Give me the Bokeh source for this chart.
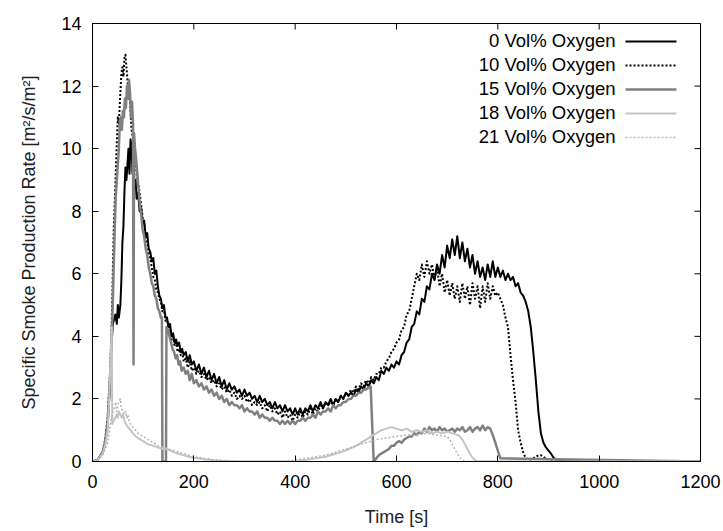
import math
from bokeh.plotting import figure
from bokeh.models import Range1d, FixedTicker, Label, Arrow
from bokeh.embed import file_html
from bokeh.resources import INLINE

# ---------------- data ----------------
x_ticks = [0, 200, 400, 600, 800, 1000, 1200]
y_ticks = [0, 2, 4, 6, 8, 10, 12, 14]
series_names = ["0 Vol% Oxygen", "10 Vol% Oxygen", "15 Vol% Oxygen",
                "18 Vol% Oxygen", "21 Vol% Oxygen"]

t_early = [0, 10, 20, 25, 30, 35, 38, 40, 42, 45, 48, 50, 52, 55, 57, 59, 61, 63, 65, 67,
           69, 71, 73, 75, 77, 79, 81, 83, 85, 87, 90, 93, 96, 99, 102, 105, 108, 111, 114, 117,
           120, 123, 126, 129, 132, 135, 138, 141, 144, 147, 150, 153, 156, 159, 162, 165, 168, 171, 174, 177,
           180, 184, 188, 192, 196, 200]
t_mid = [205, 210, 215, 220, 225, 230, 235, 240, 245, 250, 255, 260, 265, 270, 275, 280, 285, 290, 295, 300,
         305, 310, 315, 320, 325, 330, 335, 340, 345, 350, 355, 360, 365, 370, 375, 380, 385, 390, 395, 400,
         405, 410, 415, 420, 425, 430, 435, 440, 445, 450, 455, 460, 465, 470, 475, 480, 485, 490, 495, 500,
         505, 510, 515, 520, 525, 530, 535, 540, 545, 550, 555, 560, 565, 570, 575, 580, 585, 590, 595, 600,
         605, 610, 615, 620, 625, 630, 635, 640, 645, 650, 655, 660, 665, 670, 675, 680, 685, 690, 695, 700,
         705, 710, 715, 720, 725, 730, 735, 740, 745, 750, 755, 760, 765, 770, 775, 780, 785, 790, 795, 800]

# 0 Vol% Oxygen
t_o0 = t_early + t_mid + [805, 810, 815, 820, 825, 830, 835, 840, 845, 850, 855, 860, 865, 870, 875,
                          880, 885, 890, 895, 900, 905, 910, 917, 1200]
v_o0 = [0, 0.05, 0.3, 0.6, 1.2, 2.5, 3.8, 4.4, 4.5, 4.7, 4.4, 5.0, 4.6, 5.0, 5.8, 7.0, 7.5, 8.6, 9.4, 9.0,
        9.5, 10.0, 9.2, 10.3, 10.1, 9.2, 9.6, 8.8, 9.0, 8.4, 8.6, 8.0, 8.1, 7.6, 7.7, 7.2, 7.3, 6.8, 6.7, 6.4,
        6.5, 6.0, 6.1, 5.6, 5.3, 5.2, 4.9, 5.0, 4.6, 4.6, 4.3, 4.4, 4.0, 4.1, 3.8, 3.9, 3.7, 3.8, 3.5, 3.6,
        3.4, 3.5, 3.2, 3.4, 3.1, 3.2,
        2.9, 3.1, 2.8, 3.0, 2.7, 2.9, 2.6, 2.8, 2.5, 2.7, 2.4, 2.6, 2.3, 2.5, 2.3, 2.4, 2.2, 2.3, 2.1, 2.3,
        2.1, 2.2, 2.0, 2.1, 1.9, 2.1, 1.9, 2.0, 1.8, 1.9, 1.7, 1.9, 1.7, 1.8, 1.6, 1.8, 1.6, 1.7, 1.5, 1.7,
        1.5, 1.7, 1.5, 1.7, 1.6, 1.8, 1.6, 1.8, 1.7, 1.9, 1.7, 1.9, 1.8, 2.0, 1.8, 2.0, 1.9, 2.1, 2.0, 2.2,
        2.1, 2.2, 2.1, 2.3, 2.2, 2.4, 2.3, 2.5, 2.4, 2.6, 2.5, 2.7, 2.6, 2.9, 2.8, 3.0, 2.9, 3.1, 3.0, 3.2,
        3.1, 3.4, 3.5, 3.8, 3.9, 4.3, 4.4, 4.8, 4.7, 5.2, 5.1, 5.6, 5.5, 6.0, 5.8, 6.3, 6.0, 6.6, 6.2, 6.9,
        6.5, 7.1, 6.6, 7.2, 6.5, 7.0, 6.4, 6.8, 6.2, 6.6, 6.0, 6.4, 5.9, 6.2, 5.8, 6.3, 5.9, 6.4, 5.9, 6.2,
        5.9, 6.1, 5.8, 6.0, 5.8, 5.9, 5.6, 5.7, 5.4, 5.3, 5.1, 4.8, 4.3, 3.5, 2.6,
        1.6, 0.9, 0.6, 0.45, 0.35, 0.25, 0.12, 0.03, 0]

# 10 Vol% Oxygen
t_o10 = t_early + t_mid + [805, 810, 815, 820, 825, 830, 835, 840, 845, 850, 855, 860, 865, 870, 875,
                           880, 885, 890, 895, 905, 920, 1200]
v_o10 = [0, 0.05, 0.3, 0.7, 1.4, 3.0, 4.5, 6.0, 7.5, 8.8, 10.2, 11.0, 10.8, 11.8, 12.4, 12.6, 12.3, 12.9, 13.0, 12.6,
         12.2, 11.6, 11.8, 11.2, 10.6, 10.4, 10.3, 10.0, 9.6, 9.2, 8.9, 8.6, 8.2, 7.8, 7.6, 7.2, 7.0, 6.7, 6.5, 6.2,
         5.9, 5.8, 5.5, 5.4, 5.2, 5.1, 4.8, 4.9, 4.5, 4.6, 4.2, 4.3, 3.9, 4.0, 3.7, 3.8, 3.5, 3.6, 3.4, 3.5,
         3.2, 3.3, 3.0, 3.2, 2.9, 3.0,
         2.8, 2.9, 2.7, 2.8, 2.6, 2.7, 2.5, 2.6, 2.4, 2.5, 2.3, 2.4, 2.2, 2.3, 2.1, 2.2, 2.0, 2.1, 2.0, 2.1,
         1.9, 2.0, 1.8, 1.9, 1.8, 1.9, 1.7, 1.8, 1.6, 1.8, 1.6, 1.7, 1.5, 1.6, 1.4, 1.6, 1.4, 1.5, 1.3, 1.5,
         1.4, 1.6, 1.4, 1.6, 1.5, 1.7, 1.5, 1.7, 1.6, 1.8, 1.7, 1.9, 1.8, 1.9, 1.8, 2.0, 1.9, 2.1, 2.0, 2.2,
         2.1, 2.3, 2.2, 2.4, 2.3, 2.5, 2.4, 2.6, 2.5, 2.7, 2.6, 2.8, 2.8, 3.0, 3.0, 3.2, 3.3, 3.5, 3.6, 3.8,
         3.9, 4.2, 4.3, 4.7, 4.8, 5.2, 5.6, 6.0, 5.8, 6.3, 5.9, 6.4, 6.0, 6.3, 5.8, 6.2, 5.6, 6.0, 5.4, 5.8,
         5.3, 5.7, 5.2, 5.6, 5.1, 5.7, 5.2, 5.6, 5.0, 5.7, 5.2, 5.6, 4.9, 5.6, 5.1, 5.7, 5.2, 5.6, 5.3, 5.4,
         5.2, 5.0, 4.6, 4.3, 3.4, 2.6, 1.9, 1.0, 0.6, 0.3, 0.1, 0.05, 0.06, 0.1, 0.15,
         0.2, 0.2, 0.15, 0.08, 0.03, 0, 0]

# 15 Vol% Oxygen
t_o15 = [0, 10, 20, 25, 30, 35, 38, 40, 42, 44, 46, 48, 50, 52, 54, 56, 58, 60, 62, 64,
         66, 68, 70, 72, 74, 76, 78, 80, 81, 82, 84, 86, 88, 90, 93, 96, 99, 102, 105, 108,
         111, 114, 117, 120, 123, 126, 129, 132, 135, 137, 138, 145, 146, 149, 152, 155, 158, 161, 164, 167,
         170, 173, 176, 180, 184, 188, 192, 196, 200] + t_mid[:68] + [548, 549] + t_mid[70:] + [805, 1200]
v_o15 = [0, 0.05, 0.3, 0.6, 1.3, 2.8, 4.0, 5.0, 6.3, 7.5, 8.5, 9.0, 9.5, 10.0, 10.9, 11.0, 10.6, 11.2, 11.0, 11.6,
         11.3, 12.0, 11.6, 12.2, 11.8, 11.0, 11.5, 10.8, 3.1, 10.5, 10.0, 9.7, 9.3, 8.9, 8.3, 7.9, 7.4, 7.2, 6.8, 6.6,
         6.2, 6.0, 5.7, 5.6, 5.3, 5.2, 4.9, 4.8, 4.6, 4.6, 0, 0, 4.3, 4.2, 4.0, 3.8, 3.6, 3.5, 3.3, 3.4,
         3.1, 3.2, 2.9, 3.0, 2.8, 2.9, 2.6, 2.8, 2.5,
         2.6, 2.4, 2.5, 2.3, 2.4, 2.2, 2.3, 2.1, 2.2, 2.0, 2.1, 1.9, 2.0, 1.8, 1.9, 1.8, 1.8, 1.7, 1.8, 1.6,
         1.7, 1.6, 1.6, 1.5, 1.6, 1.4, 1.5, 1.4, 1.4, 1.3, 1.4, 1.3, 1.3, 1.2, 1.3, 1.2, 1.3, 1.2, 1.3, 1.2,
         1.3, 1.3, 1.4, 1.3, 1.4, 1.4, 1.5, 1.4, 1.6, 1.5, 1.6, 1.6, 1.7, 1.6, 1.8, 1.7, 1.8, 1.8, 1.9, 1.9,
         2.0, 2.0, 2.1, 2.1, 2.2, 2.2, 2.3, 2.3, 2.4,
         2.4, 0,
         0.1, 0.2, 0.25, 0.3, 0.35, 0.4, 0.5, 0.5, 0.6, 0.65,
         0.6, 0.7, 0.75, 0.8, 0.8, 0.9, 0.85, 0.95, 0.9, 1.05, 0.95, 1.1, 1.0, 1.05, 0.95, 1.1, 1.0, 1.05, 0.95, 1.0,
         1.05, 0.95, 1.05, 1.0, 1.1, 0.95, 1.0, 1.1, 0.95, 1.05, 1.1, 1.0, 1.15, 1.0, 1.1, 1.05, 0.85, 0.6, 0.35, 0.1,
         0, 0]

# 18 Vol% Oxygen
t_o18 = [0, 10, 20, 25, 30, 33, 36, 38, 39, 42, 45, 48, 50, 52, 55, 58, 60, 63, 66, 70,
         75, 80, 85, 90, 100, 110, 120, 130, 140, 150, 160, 170, 180, 190, 200, 220, 240, 260, 280, 300,
         400, 420, 440, 460, 480, 500, 520, 540, 550, 560, 570, 580, 590, 600, 610, 620, 630, 640, 650, 660,
         670, 680, 690, 700, 710, 720, 725, 730, 735, 740, 745, 750, 755, 760, 1200]
v_o18 = [0, 0.05, 0.25, 0.5, 1.0, 2.0, 3.5, 4.3, 1.2, 1.3, 1.4, 1.5, 1.4, 1.6, 1.5, 1.4, 1.5, 1.3, 1.2, 1.1,
         1.0, 0.9, 0.8, 0.75, 0.65, 0.55, 0.5, 0.45, 0.4, 0.38, 0.3, 0.25, 0.2, 0.15, 0.12, 0.07, 0.04, 0.02, 0.01, 0,
         0, 0.05, 0.1, 0.15, 0.25, 0.35, 0.5, 0.7, 0.8, 0.9, 1.0, 1.05, 1.1, 1.05, 1.0, 1.05, 0.95, 1.0, 0.95, 1.0,
         0.9, 0.95, 0.9, 0.95, 0.9, 0.85, 0.8, 0.7, 0.55, 0.4, 0.25, 0.12, 0.05, 0, 0]

# 21 Vol% Oxygen
t_o21 = [0, 10, 20, 25, 30, 33, 36, 40, 43, 46, 48, 50, 52, 55, 57, 60, 62, 65, 68, 70,
         72, 75, 80, 85, 90, 95, 100, 110, 120, 130, 140, 150, 160, 170, 180, 190, 200, 220, 240, 260,
         280, 300, 380, 400, 420, 440, 460, 480, 500, 520, 540, 560, 580, 600, 620, 640, 660, 680, 700, 705,
         710, 715, 720, 725, 730, 735, 1200]
v_o21 = [0, 0.05, 0.2, 0.4, 0.6, 0.9, 1.3, 1.6, 1.7, 1.9, 1.6, 1.8, 1.9, 2.0, 1.7, 1.6, 1.5, 1.6, 1.4, 1.5,
         1.3, 1.2, 1.1, 1.0, 0.9, 0.85, 0.8, 0.7, 0.6, 0.5, 0.45, 0.4, 0.35, 0.3, 0.25, 0.2, 0.15, 0.1, 0.05, 0.03,
         0.01, 0, 0, 0.05, 0.1, 0.15, 0.2, 0.3, 0.4, 0.5, 0.6, 0.7, 0.75, 0.8, 0.85, 0.85, 0.9, 0.85, 0.8, 0.7,
         0.55, 0.4, 0.25, 0.12, 0.05, 0, 0]

# ---------------- styling ----------------
FONT = "Liberation Sans"
styles = [
    dict(color="#000000", width=2.0, dash="solid"),
    dict(color="#000000", width=2.0, dash="2 2"),
    dict(color="#808080", width=2.5, dash="solid"),
    dict(color="#c4c4c4", width=2.0, dash="solid"),
    dict(color="#b4b4b4", width=1.5, dash="2 2"),
]

p = figure(width=723, height=531, output_backend="svg", toolbar_location=None,
           x_range=Range1d(0, 1200), y_range=Range1d(0, 14),
           min_border_left=92, min_border_right=23, min_border_top=23, min_border_bottom=70,
           x_axis_label="Time [s]", y_axis_label="Specific Smoke Production Rate [m²/s/m²]")
p.grid.visible = False
p.outline_line_color = "black"
p.outline_line_width = 1
p.outline_line_alpha = 1.0
p.background_fill_color = "white"
p.border_fill_color = "white"

for ax, ticks in ((p.xaxis[0], x_ticks), (p.yaxis[0], y_ticks)):
    ax.ticker = FixedTicker(ticks=ticks)
    ax.major_tick_in = 6
    ax.major_tick_out = 0
    ax.minor_tick_in = 0
    ax.minor_tick_out = 0
    ax.axis_line_color = "black"
    ax.major_tick_line_color = "black"
    ax.major_label_text_font = FONT
    ax.major_label_text_font_size = "18px"
    ax.major_label_text_color = "black"
    ax.axis_label_text_font = FONT
    ax.axis_label_text_font_style = "normal"
    ax.axis_label_text_font_size = "18px"
    ax.axis_label_text_color = "#222222"
p.xaxis[0].major_label_standoff = 13
p.xaxis[0].axis_label_standoff = 16
p.yaxis[0].major_label_standoff = 11
p.yaxis[0].axis_label_standoff = 19

# mirrored inward ticks on the top and right edges of the frame
p.ray(x=x_ticks, y=[y_ticks[-1]] * len(x_ticks), length=6, length_units="screen",
      angle=-math.pi / 2, line_color="black", line_width=1)
p.ray(x=[x_ticks[-1]] * len(y_ticks), y=y_ticks, length=6, length_units="screen",
      angle=math.pi, line_color="black", line_width=1)

all_t = [t_o0, t_o10, t_o15, t_o18, t_o21]
all_v = [v_o0, v_o10, v_o15, v_o18, v_o21]
for t, v, st in zip(all_t, all_v, styles):
    p.line(t, v, line_color=st["color"], line_width=st["width"], line_dash=st["dash"],
           line_join="round")

# key (gnuplot style): text right-aligned, sample line to its right; screen units inside the frame
key_line_x0, key_line_x1 = 533, 584
key_text_x = 523
key_top = 420
key_pitch = 24
for i, (name, st) in enumerate(zip(series_names, styles)):
    yy = key_top - i * key_pitch
    p.add_layout(Arrow(end=None, start=None, x_start=key_line_x0, y_start=yy, x_end=key_line_x1, y_end=yy,
                       start_units="screen", end_units="screen", line_color=st["color"],
                       line_width=st["width"], line_dash=st["dash"]))
    p.add_layout(Label(x=key_text_x, y=yy + 1, x_units="screen", y_units="screen",
                       text=name, text_align="right", text_baseline="middle",
                       text_font=FONT, text_font_size="18.5px", text_color="black"))

open("out.html", "w").write(file_html(p, INLINE))
